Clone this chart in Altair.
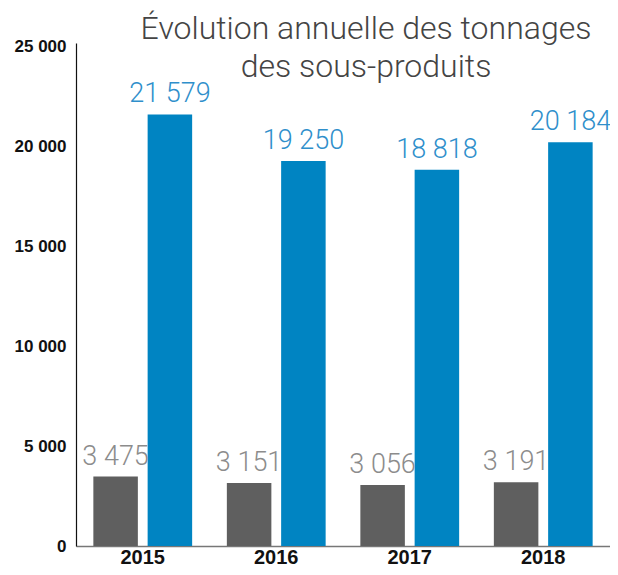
import altair as alt
import pandas as pd

years = ["2015", "2016", "2017", "2018"]
series_names = ["Série grise", "Série bleue"]
gray_values = [3475, 3151, 3056, 3191]
blue_values = [21579, 19250, 18818, 20184]
bar_colors = ["#5f5f5f", "#0084c2"]
label_colors = ["#8c8c8c", "#2f8fcb"]

rows = []
for i, y in enumerate(years):
    for s, vals in zip(series_names, [gray_values, blue_values]):
        v = vals[i]
        rows.append({"year": y, "series": s, "value": v,
                     "label": f"{v:,}".replace(",", " ")})
df = pd.DataFrame(rows)

x_enc = alt.X("year:N", title=None, sort=years,
              scale=alt.Scale(paddingInner=0.26, paddingOuter=0.13),
              axis=alt.Axis(labelAngle=0, labelFont="Liberation Sans", labelFontWeight="bold",
                            labelFontSize=20, labelColor="#111", ticks=False, labelPadding=1,
                            domainColor="#777", domainWidth=1.5))
xo_enc = alt.XOffset("series:N", sort=series_names,
                     scale=alt.Scale(paddingInner=0.18, paddingOuter=0))
y_enc = alt.Y("value:Q", title=None,
              scale=alt.Scale(domain=[0, 25150], nice=False),
              axis=alt.Axis(values=[0, 5000, 10000, 15000, 20000, 25000], grid=False,
                            ticks=False, labelPadding=10, labelFont="Liberation Sans",
                            labelFontWeight="bold", labelFontSize=17, labelColor="#111",
                            domainColor="#111", domainWidth=1.2,
                            labelExpr="datum.value == 0 ? '0' : floor(datum.value/1000) + ' 000'"))

bars = alt.Chart(df).mark_bar().encode(
    x=x_enc, xOffset=xo_enc, y=y_enc,
    color=alt.Color("series:N", sort=series_names,
                    scale=alt.Scale(domain=series_names, range=bar_colors), legend=None),
)

texts = alt.Chart(df).mark_text(baseline="alphabetic", dy=-12, fontSize=27,
                                font="Roboto", fontWeight=300).encode(
    x=x_enc, xOffset=xo_enc, y=y_enc, text="label:N",
    color=alt.Color("series:N", sort=series_names,
                    scale=alt.Scale(domain=series_names, range=label_colors), legend=None),
)

chart = alt.layer(bars, texts).resolve_scale(color="independent").properties(
    width=534, height=503,
    autosize=alt.AutoSizeParams(type="none"),
    padding={"left": 68, "top": 35, "right": 0, "bottom": 21},
    title=alt.TitleParams(
        text=["Évolution annuelle des tonnages", "des sous-produits"],
        anchor="middle", frame="group", dx=23, dy=51, fontSize=32,
        font="Roboto", fontWeight=300, color="#444", lineHeight=38),
).configure_view(stroke=None)

chart.save("out.html", embed_options={"renderer": "svg", "actions": False})
